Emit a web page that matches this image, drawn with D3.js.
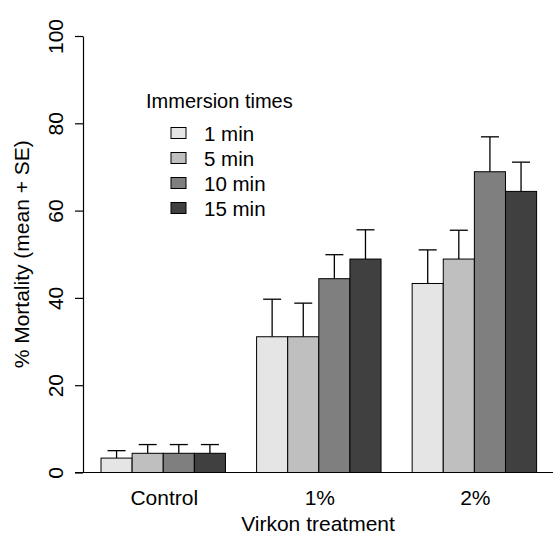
<!DOCTYPE html>
<html>
<head>
<meta charset="utf-8">
<script src="https://cdn.jsdelivr.net/npm/d3@7"></script>
<style>
  body { margin: 0; background: white; }
  text { font-family: "Liberation Sans", Arial, sans-serif; }
</style>
</head>
<body>
<div id="viz-container"></div>
<script>
// data
let treatments = ["Control", "1%", "2%"];
let times = ["1 min", "5 min", "10 min", "15 min"];
let fills = ["#e5e5e5", "#bfbfbf", "#7f7f7f", "#404040"];
// mean mortality per immersion time, one value per treatment
let mean1 = [3.3, 31.1, 43.3];
let mean5 = [4.4, 31.1, 48.9];
let mean10 = [4.4, 44.4, 68.9];
let mean15 = [4.4, 48.9, 64.4];
// standard errors
let se1 = [1.7, 8.6, 7.7];
let se5 = [2.0, 7.7, 6.6];
let se10 = [2.0, 5.5, 8.0];
let se15 = [2.0, 6.7, 6.7];
let yTicks = [0, 20, 40, 60, 80, 100];

let means = [mean1, mean5, mean10, mean15];
let ses = [se1, se5, se10, se15];

let viz = d3.select("#viz-container")
                .append("svg")
                    .attr("width", 558)
                    .attr("height", 543)
;

// bar units like R barplot beside=TRUE, space=c(0,1)
let x = d3.scaleLinear().domain([0, 15]).range([69.9, 536.6]);
let y = d3.scaleLinear().domain([0, 100]).range([472.5, 36]);
let bw = x(1) - x(0);

let bars = [];
treatments.forEach(function(t, g){
    times.forEach(function(tm, j){
        bars.push({g: g, j: j, v: means[j][g], se: ses[j][g], u: g*5 + 1 + j});
    });
});

// error bars first, then bars on top
let err = viz.append("g").attr("stroke", "black").attr("stroke-width", 1.3);
err.selectAll("line.v").data(bars).enter().append("line")
    .attr("class", "v")
    .attr("x1", d => x(d.u) + bw/2)
    .attr("x2", d => x(d.u) + bw/2)
    .attr("y1", d => y(d.v))
    .attr("y2", d => y(d.v + d.se));
err.selectAll("line.c").data(bars).enter().append("line")
    .attr("class", "c")
    .attr("x1", d => x(d.u) + bw/2 - 9)
    .attr("x2", d => x(d.u) + bw/2 + 9)
    .attr("y1", d => y(d.v + d.se))
    .attr("y2", d => y(d.v + d.se));

viz.selectAll("rect.bar").data(bars).enter().append("rect")
    .attr("class", "bar")
    .attr("x", d => x(d.u))
    .attr("y", d => y(d.v))
    .attr("width", bw)
    .attr("height", d => y(0) - y(d.v))
    .attr("fill", d => fills[d.j])
    .attr("stroke", "black")
    .attr("stroke-width", 1);

// baseline
viz.append("line")
    .attr("x1", 75).attr("x2", 553)
    .attr("y1", y(0)).attr("y2", y(0))
    .attr("stroke", "black").attr("stroke-width", 1.2);

// y axis
let yAxis = viz.append("g")
    .attr("transform", "translate(83,0)")
    .call(d3.axisLeft(y).tickValues(yTicks).tickSize(8).tickSizeOuter(0));
yAxis.selectAll("path, line").attr("stroke", "black").attr("stroke-width", 1.2);
yAxis.selectAll("text")
    .attr("x", null).attr("dy", null)
    .attr("transform", "translate(-20,0) rotate(-90)")
    .attr("text-anchor", "middle")
    .attr("fill", "black")
    .style("font-size", "21px")
    .style("font-family", "Liberation Sans, Arial, sans-serif");

// x labels
viz.selectAll("text.xl").data(treatments).enter().append("text")
    .attr("class", "xl")
    .attr("x", (d, i) => x(i*5 + 3) + 1)
    .attr("y", 505)
    .attr("text-anchor", "middle")
    .style("font-size", "21px")
    .text(d => d);

viz.append("text")
    .attr("x", 318)
    .attr("y", 531)
    .attr("text-anchor", "middle")
    .style("font-size", "21px")
    .text("Virkon treatment");

viz.append("text")
    .attr("transform", "translate(29," + (y(50)) + ") rotate(-90)")
    .attr("text-anchor", "middle")
    .style("font-size", "21px")
    .text("% Mortality (mean + SE)");

// legend
let leg = viz.append("g");
leg.append("text")
    .attr("x", 146).attr("y", 108)
    .style("font-size", "20px")
    .text("Immersion times");
leg.selectAll("rect").data(times).enter().append("rect")
    .attr("x", 171)
    .attr("y", (d, i) => 127.5 + i*25)
    .attr("width", 15).attr("height", 11)
    .attr("fill", (d, i) => fills[i])
    .attr("stroke", "black").attr("stroke-width", 1);
leg.selectAll("text.li").data(times).enter().append("text")
    .attr("class", "li")
    .attr("x", 204)
    .attr("y", (d, i) => 141 + i*25)
    .style("font-size", "20.5px")
    .text(d => d);
</script>
</body>
</html>
